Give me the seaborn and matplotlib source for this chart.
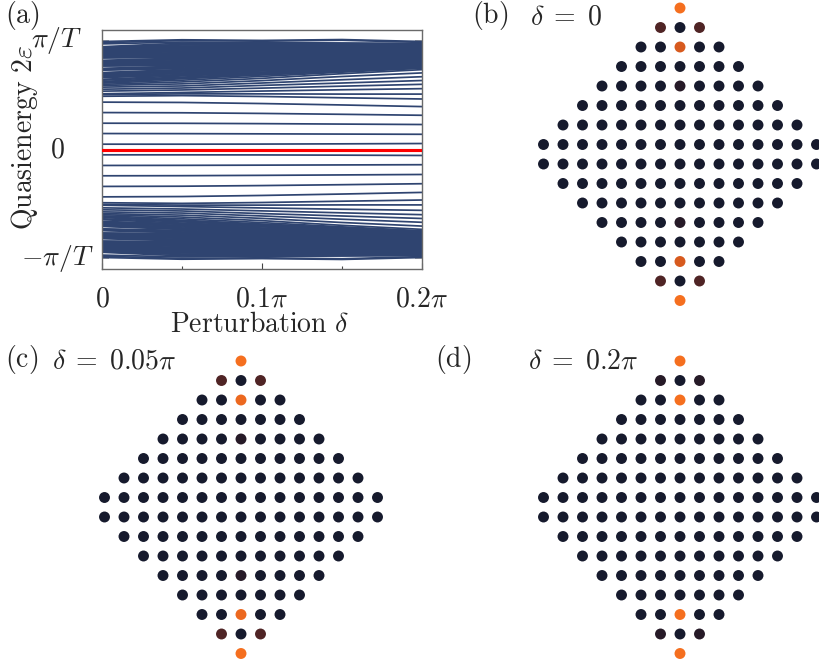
import numpy as np
import pandas as pd
import matplotlib
matplotlib.use("Agg")
import matplotlib.pyplot as plt
import seaborn as sns
from matplotlib.colors import LinearSegmentedColormap

# ---------------------------------------------------------------- data
# perturbation strength (in units of pi) at which the quasienergies are sampled
delta_samples = [0.0, 0.05, 0.10, 0.15, 0.20]

# quasienergies (units of pi/T), positive half of the chiral-symmetric spectrum
zero_mode = [0.0, 0.0, 0.0, 0.0, 0.0]

gap_levels = [
    [0.049, 0.049, 0.050, 0.052, 0.055],
    [0.147, 0.146, 0.144, 0.142, 0.140],
    [0.242, 0.241, 0.238, 0.234, 0.230],
    [0.340, 0.338, 0.332, 0.324, 0.315],
    [0.436, 0.433, 0.423, 0.410, 0.395],
]

edge_levels = [
    [0.490, 0.496, 0.488, 0.476, 0.465],
    [0.505, 0.512, 0.512, 0.510, 0.510],
    [0.513, 0.525, 0.538, 0.550, 0.560],
    [0.537, 0.548, 0.565, 0.583, 0.600],
    [0.555, 0.566, 0.590, 0.612, 0.635],
    [0.574, 0.585, 0.612, 0.642, 0.670],
    [0.590, 0.604, 0.634, 0.672, 0.705],
    [0.600, 0.622, 0.655, 0.698, 0.735],
]

band_levels = [
    [0.611, 0.638, 0.673, 0.712, 0.748],
    [0.619, 0.651, 0.686, 0.719, 0.753],
    [0.626, 0.660, 0.692, 0.727, 0.761],
    [0.638, 0.666, 0.701, 0.734, 0.764],
    [0.646, 0.677, 0.708, 0.737, 0.771],
    [0.662, 0.684, 0.712, 0.746, 0.776],
    [0.668, 0.689, 0.723, 0.751, 0.780],
    [0.676, 0.699, 0.727, 0.756, 0.787],
    [0.681, 0.704, 0.736, 0.765, 0.790],
    [0.690, 0.713, 0.741, 0.768, 0.797],
    [0.697, 0.722, 0.749, 0.776, 0.800],
    [0.704, 0.727, 0.757, 0.782, 0.807],
    [0.708, 0.736, 0.760, 0.787, 0.811],
    [0.730, 0.745, 0.769, 0.793, 0.817],
    [0.736, 0.750, 0.776, 0.798, 0.820],
    [0.742, 0.759, 0.781, 0.806, 0.827],
    [0.747, 0.767, 0.789, 0.809, 0.830],
    [0.768, 0.773, 0.796, 0.817, 0.837],
    [0.772, 0.782, 0.800, 0.821, 0.841],
    [0.778, 0.788, 0.809, 0.829, 0.845],
    [0.784, 0.796, 0.814, 0.833, 0.852],
    [0.790, 0.803, 0.822, 0.840, 0.855],
    [0.796, 0.812, 0.827, 0.844, 0.862],
    [0.803, 0.817, 0.835, 0.852, 0.865],
    [0.809, 0.827, 0.841, 0.855, 0.872],
    [0.815, 0.832, 0.849, 0.863, 0.875],
    [0.821, 0.841, 0.853, 0.867, 0.882],
    [0.842, 0.847, 0.862, 0.875, 0.885],
    [0.848, 0.856, 0.867, 0.878, 0.892],
    [0.854, 0.862, 0.875, 0.886, 0.895],
    [0.860, 0.871, 0.880, 0.890, 0.902],
    [0.866, 0.877, 0.889, 0.898, 0.905],
    [0.872, 0.886, 0.893, 0.902, 0.912],
    [0.878, 0.891, 0.902, 0.910, 0.915],
    [0.885, 0.901, 0.906, 0.913, 0.922],
    [0.891, 0.907, 0.915, 0.921, 0.925],
    [0.897, 0.916, 0.920, 0.925, 0.932],
    [0.903, 0.921, 0.928, 0.933, 0.935],
    [0.909, 0.931, 0.933, 0.937, 0.942],
    [0.915, 0.937, 0.942, 0.945, 0.945],
    [0.921, 0.946, 0.946, 0.948, 0.952],
    [0.928, 0.952, 0.955, 0.956, 0.955],
    [0.934, 0.962, 0.960, 0.960, 0.962],
    [0.940, 0.967, 0.968, 0.968, 0.965],
    [0.946, 0.979, 0.974, 0.972, 0.972],
    [0.972, 0.989, 0.983, 0.981, 0.977],
    [0.983, 1.003, 0.997, 1.006, 0.986],
    [0.994, 1.010, 1.004, 1.012, 0.994],
]

# lattice sites carrying weight of the corner mode: (row, column)
hot_sites = [(0, 0), (1, -1), (1, 1), (2, 0), (4, 0),
             (11, 0), (13, 0), (14, -1), (14, 1), (15, 0)]
weights_b = [1.00, 0.30, 0.30, 0.85, 0.10, 0.10, 0.85, 0.30, 0.30, 1.00]
weights_c = [1.00, 0.30, 0.30, 0.95, 0.10, 0.10, 0.95, 0.30, 0.30, 1.00]
weights_d = [1.00, 0.10, 0.10, 1.00, 0.00, 0.00, 1.00, 0.10, 0.10, 1.00]

x_tick_labels = [r"$0$", r"$0.1\pi$", r"$0.2\pi$"]
y_ticks = [1, 0, -1]
y_tick_labels = [r"$\pi/T$", r"$0$", r"$-\pi/T$"]

# ---------------------------------------------------------------- style
sns.set_theme(style="white")
plt.rcParams["font.family"] = ["DejaVu Serif"]
plt.rcParams["mathtext.fontset"] = "cm"

LINE_COLOR = "#2f4470"
FS = 20
W, H = 820, 660

fig = plt.figure(figsize=(W / 100, H / 100), dpi=100)


def px_axes(left, top, right, bottom):
    return fig.add_axes([left / W, 1 - bottom / H, (right - left) / W, (bottom - top) / H])


def px_text(x, y, s, **kw):
    fig.text(x / W, 1 - y / H, s, fontsize=FS, **kw)


# ---------------------------------------------------------------- (a) spectrum
spec_rows = []
for i, lev in enumerate(gap_levels + edge_levels + band_levels):
    for d, e in zip(delta_samples, lev):
        spec_rows.append((i, d, e))
        spec_rows.append((-i - 1, d, -e))
spectrum = pd.DataFrame(spec_rows, columns=["level", "delta", "energy"])

AX_L, AX_T, AX_R, AX_B = 102, 30, 422, 269
YLIM = 1.1
ax = px_axes(AX_L, AX_T, AX_R, AX_B)
sns.lineplot(data=spectrum, x="delta", y="energy", units="level", estimator=None,
             color=LINE_COLOR, lw=1.25, ax=ax, legend=False)
for _ in range(2):
    sns.lineplot(x=delta_samples, y=zero_mode, color="#ff0000", lw=2.2, ax=ax, zorder=5)

ax.set_xlim(0, 0.2)
ax.set_ylim(-YLIM, YLIM)
ax.set_xticks([0, 0.1, 0.2])
ax.set_xticklabels(x_tick_labels)
ax.set_xticks([0.05, 0.15], minor=True)
ax.set_yticks(y_ticks)
ax.set_yticklabels([])
ax.tick_params(axis="x", which="major", direction="in", bottom=True, length=4,
               width=0.8, color="#444444", labelsize=FS, pad=12)
ax.tick_params(axis="x", which="minor", direction="in", bottom=True, length=2.5,
               width=0.8, color="#444444")
ax.tick_params(axis="y", direction="in", left=True, right=True, length=5,
               width=1.2, color="#9a9a9a")
for sp in ax.spines.values():
    sp.set_color("#6a6a6a")
    sp.set_linewidth(1.0)
ax.set_xlabel("")
ax.set_ylabel("")

# y tick labels centred in the column left of the axes
for val, lab in zip(y_ticks, y_tick_labels):
    ypx = AX_T + (YLIM - val) / (2 * YLIM) * (AX_B - AX_T)
    px_text(57, ypx, lab, ha="center", va="center")

px_text(5, 15, r"$\mathrm{(a)}$", ha="left", va="center")
px_text(25, 138, r"$\mathrm{Quasienergy}\ 2\varepsilon$", ha="center", va="center",
        rotation=90)
px_text(259, 325, r"$\mathrm{Perturbation}\ \delta$", ha="center", va="center")

# ---------------------------------------------------------------- (b)-(d) lattice
cmap = LinearSegmentedColormap.from_list(
    "mode", [(0.0, "#161a2d"), (0.12, "#2a1a26"), (0.30, "#4f2425"),
             (0.85, "#d75a1e"), (1.0, "#f56f1f")])

lattice_rows = []
for r in range(16):
    k = min(r, 15 - r)
    for c in range(-k, k + 1):
        lattice_rows.append((r, c))


def lattice_frame(weights):
    wmap = dict(zip(hot_sites, weights))
    return pd.DataFrame([(r, c, wmap.get((r, c), 0.0)) for r, c in lattice_rows],
                        columns=["row", "col", "weight"])


SP = 19.5


def lattice_panel(cx, ytop, weights):
    a = px_axes(cx - 8 * SP, ytop - SP, cx + 8 * SP, ytop + 16 * SP)
    sns.scatterplot(data=lattice_frame(weights), x="col", y="row", hue="weight",
                    palette=cmap, hue_norm=(0, 1), s=62, linewidth=0,
                    legend=False, ax=a)
    for coll in a.collections:
        coll.set_clip_on(False)
    a.set_xlim(-8, 8)
    a.set_ylim(16, -1)
    a.axis("off")


lattice_panel(680, 8, weights_b)
lattice_panel(241, 361, weights_c)
lattice_panel(680, 361, weights_d)

px_text(472, 15, r"$\mathrm{(b)}$", ha="left", va="center")
px_text(530, 17, r"$\delta\;=\;0$", ha="left", va="center")
px_text(5, 360, r"$\mathrm{(c)}$", ha="left", va="center")
px_text(52, 361, r"$\delta\;=\;0.05\pi$", ha="left", va="center")
px_text(435, 360, r"$\mathrm{(d)}$", ha="left", va="center")
px_text(528, 361, r"$\delta\;=\;0.2\pi$", ha="left", va="center")

fig.savefig("out.png", dpi=100)
